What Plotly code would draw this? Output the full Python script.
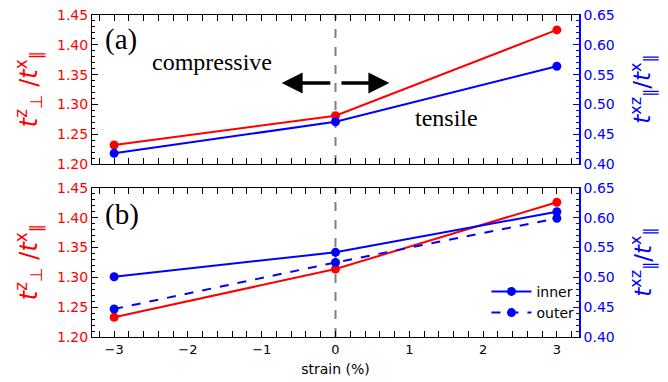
import plotly.graph_objects as go

strain = [-3, 0, 3]
# panel (a)
a_tz = [1.232, 1.281, 1.425]
a_txz = [0.418, 0.471, 0.564]
# panel (b)
b_tz = [1.233, 1.314, 1.426]
b_txz_inner = [0.501, 0.542, 0.610]
b_txz_outer = [0.447, 0.525, 0.599]

RED = "#ff0000"
BLUE = "#0000ff"
FONT = "DejaVu Sans"
SERIF = "Liberation Serif"

fig = go.Figure()

mk = dict(size=9)
# panel a
fig.add_trace(go.Scatter(x=strain, y=a_tz, mode="lines+markers", line=dict(color=RED, width=2),
                         marker=dict(color=RED, **mk), xaxis="x", yaxis="y", showlegend=False))
fig.add_trace(go.Scatter(x=strain, y=a_txz, mode="lines+markers", line=dict(color=BLUE, width=2),
                         marker=dict(color=BLUE, **mk), xaxis="x", yaxis="y2", showlegend=False))
# panel b
fig.add_trace(go.Scatter(x=strain, y=b_tz, mode="lines+markers", line=dict(color=RED, width=2),
                         marker=dict(color=RED, **mk), xaxis="x2", yaxis="y3", showlegend=False))
fig.add_trace(go.Scatter(x=strain, y=b_txz_inner, mode="lines+markers", name="inner",
                         line=dict(color=BLUE, width=2), marker=dict(color=BLUE, **mk),
                         xaxis="x2", yaxis="y4"))
fig.add_trace(go.Scatter(x=strain, y=b_txz_outer, mode="lines+markers", name="outer",
                         line=dict(color=BLUE, width=2, dash="dash"), marker=dict(color=BLUE, **mk),
                         xaxis="x2", yaxis="y4"))

dom_a = [0.537, 1.0]
dom_b = [0.0, 0.463]

xcommon = dict(range=[-3.3, 3.3], showgrid=False, zeroline=False, showline=True, linecolor="black",
               linewidth=1, mirror="allticks", ticks="inside", ticklen=6, tickwidth=1, tickcolor="black",
               dtick=1, tick0=0, automargin=False,
               minor=dict(ticks="inside", ticklen=3, dtick=0.2, tickcolor="black", showgrid=False),
               tickfont=dict(family=FONT, size=13, color="black"))
ycommonL = dict(range=[1.20, 1.45], showgrid=False, zeroline=False, showline=True, linecolor="black",
                linewidth=1, ticks="inside", ticklen=6, tickcolor="black", dtick=0.05, tick0=1.2,
                tickformat=".2f", automargin=False,
                minor=dict(ticks="inside", ticklen=3, dtick=0.01, tickcolor="black", showgrid=False),
                tickfont=dict(family=FONT, size=14, color=RED))
ycommonR = dict(range=[0.40, 0.65], showgrid=False, zeroline=False, showline=True, linecolor=BLUE,
                linewidth=1.5, ticks="inside", ticklen=6, tickcolor=BLUE, dtick=0.05, tick0=0.4,
                tickformat=".2f", side="right", automargin=False,
                minor=dict(ticks="inside", ticklen=3, dtick=0.01, tickcolor=BLUE, showgrid=False),
                tickfont=dict(family=FONT, size=14, color=BLUE))

fig.update_layout(
    width=668, height=382,
    margin=dict(l=92, r=89, t=15, b=45, autoexpand=False),
    plot_bgcolor="white", paper_bgcolor="white",
    xaxis=dict(domain=[0, 1], anchor="y", showticklabels=False, **xcommon),
    xaxis2=dict(domain=[0, 1], anchor="y3", showticklabels=True,
                title=dict(text="strain (%)", font=dict(family=FONT, size=14, color="black"), standoff=8),
                **xcommon),
    yaxis=dict(domain=dom_a, anchor="x", **ycommonL),
    yaxis2=dict(overlaying="y", anchor="x", **ycommonR),
    yaxis3=dict(domain=dom_b, anchor="x2", **ycommonL),
    yaxis4=dict(overlaying="y3", anchor="x2", **ycommonR),
    legend=dict(x=0.81, y=0.19, xanchor="left", yanchor="top", bgcolor="rgba(0,0,0,0)",
                font=dict(family=FONT, size=14, color="black"), itemwidth=40, tracegroupgap=0),
    showlegend=True,
)

# vertical dashed lines at zero strain
for xr, yr in [("x", "y domain"), ("x2", "y3 domain")]:
    fig.add_shape(type="line", xref=xr, yref=yr, x0=0, x1=0, y0=0, y1=1,
                  line=dict(color="#808080", width=2, dash="dash"), layer="below")

ann = []
# panel labels
ann.append(dict(text="(a)", xref="paper", yref="paper", x=0.022, y=0.925, showarrow=False,
                xanchor="left", yanchor="middle", font=dict(family=SERIF, size=29, color="black")))
ann.append(dict(text="(b)", xref="paper", yref="paper", x=0.022, y=0.381, showarrow=False,
                xanchor="left", yanchor="middle", font=dict(family=SERIF, size=29, color="black")))
ann.append(dict(text="compressive", xref="x", yref="y", x=-1.67, y=1.371, showarrow=False,
                font=dict(family=SERIF, size=24, color="black")))
ann.append(dict(text="tensile", xref="x", yref="y", x=1.5, y=1.277, showarrow=False,
                font=dict(family=SERIF, size=24, color="black")))
# arrows
ann.append(dict(text="", xref="x", yref="y", axref="x", ayref="y", x=-0.73, y=1.336, ax=-0.05, ay=1.336,
                showarrow=True, arrowhead=2, arrowsize=1.2, arrowwidth=3.5, arrowcolor="black"))
ann.append(dict(text="", xref="x", yref="y", axref="x", ayref="y", x=0.73, y=1.336, ax=0.06, ay=1.336,
                showarrow=True, arrowhead=2, arrowsize=1.2, arrowwidth=3.5, arrowcolor="black"))

# y axis titles
ltitle = "<i>t</i><sup>z</sup><sub>⊥</sub> /<i>t</i><sup>x</sup><sub>∥</sub>"
rtitle = "<i>t</i><sup>xz</sup><sub>∥</sub>/<i>t</i><sup>x</sup><sub>∥</sub>"
for yc in [(dom_a[0] + dom_a[1]) / 2, (dom_b[0] + dom_b[1]) / 2]:
    ann.append(dict(text=ltitle, xref="paper", yref="paper", x=-0.13, y=yc, textangle=-90,
                    showarrow=False, xanchor="center", yanchor="middle",
                    font=dict(family=FONT, size=24, color=RED)))
    ann.append(dict(text=rtitle, xref="paper", yref="paper", x=1.13, y=yc, textangle=-90,
                    showarrow=False, xanchor="center", yanchor="middle",
                    font=dict(family=FONT, size=23, color=BLUE)))
fig.update_layout(annotations=ann)

fig.write_html("out.html")
